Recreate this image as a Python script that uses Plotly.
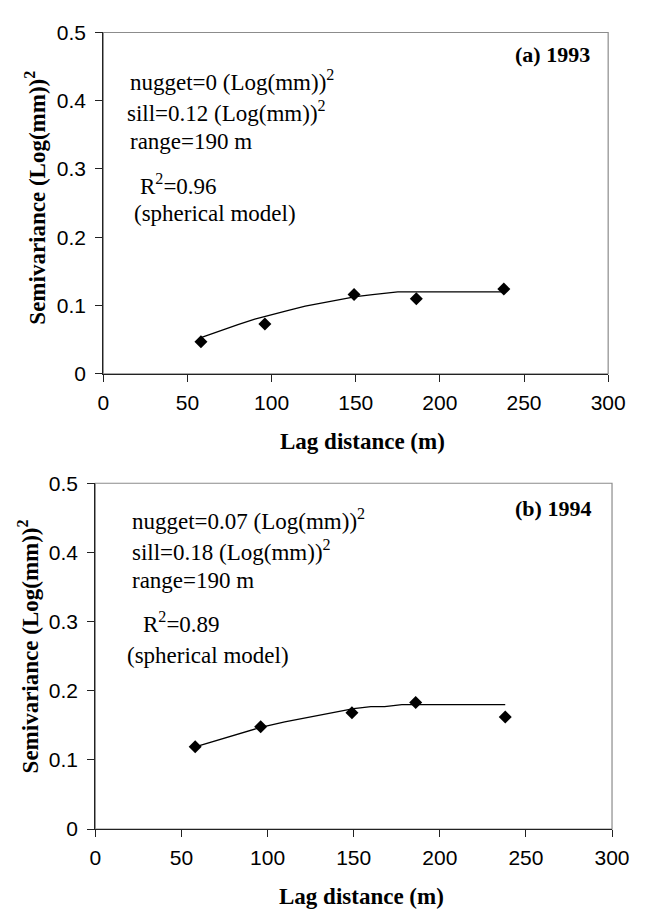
import plotly.graph_objects as go

W, H = 657, 921

# ---- data ----
lag_a = [58, 96, 149, 186, 238]
semi_a = [0.047, 0.073, 0.116, 0.110, 0.124]
model_x_a = [58, 70, 80, 90, 100, 110, 120, 130, 140, 150, 160, 175, 238]
model_y_a = [0.053, 0.064, 0.072, 0.080, 0.087, 0.093, 0.099, 0.104, 0.109, 0.113, 0.116, 0.120, 0.120]

lag_b = [58, 96, 149, 186, 238]
semi_b = [0.119, 0.148, 0.168, 0.183, 0.162]
model_x_b = [58, 70, 80, 88, 96, 110, 120, 130, 140, 150, 160, 168, 178, 238]
model_y_b = [0.119, 0.128, 0.135, 0.141, 0.147, 0.155, 0.160, 0.165, 0.170, 0.174, 0.177, 0.177, 0.180, 0.180]

x_ticks = [0, 50, 100, 150, 200, 250, 300]
y_ticks = [0, 0.1, 0.2, 0.3, 0.4, 0.5]

texts_a = ["nugget=0 (Log(mm))<sup>2</sup>", "sill=0.12 (Log(mm))<sup>2</sup>", "range=190 m",
           "R<sup>2</sup>=0.96", "(spherical model)"]
texts_b = ["nugget=0.07 (Log(mm))<sup>2</sup>", "sill=0.18 (Log(mm))<sup>2</sup>", "range=190 m",
           "R<sup>2</sup>=0.89", "(spherical model)"]
panel_labels = ["(a) 1993", "(b) 1994"]
x_title = "Lag distance (m)"
y_title = "Semivariance (Log(mm))<sup>2</sup>"

SERIF = "Times New Roman, Liberation Serif, serif"
SANS = "Arial, Liberation Sans, sans-serif"

def px_x(p):
    return p / W

def px_y(p):
    return 1 - p / H

fig = go.Figure()

# panel geometry in pixels: (left, right, top, bottom)
panels = [(101, 625, 21, 371), (92.7, 629, 483.3, 838)]

for i, (lag, semi, mx, my) in enumerate([(lag_a, semi_a, model_x_a, model_y_a),
                                          (lag_b, semi_b, model_x_b, model_y_b)]):
    xa = "x" if i == 0 else "x2"
    ya = "y" if i == 0 else "y2"
    fig.add_trace(go.Scatter(x=mx, y=my, mode="lines", xaxis=xa, yaxis=ya,
                             line=dict(color="black", width=1.3), showlegend=False))
    fig.add_trace(go.Scatter(x=lag, y=semi, mode="markers", xaxis=xa, yaxis=ya,
                             marker=dict(symbol="diamond", size=10, color="black"),
                             showlegend=False))

axis_common = dict(showgrid=False, zeroline=False, showline=True, linecolor="#222",
                   linewidth=1.2, ticks="outside", ticklen=7, tickwidth=1.2, tickcolor="#222",
                   tickfont=dict(family=SANS, size=21, color="black"))

for i, (l, r, t, b) in enumerate(panels):
    sfx = "" if i == 0 else "2"
    fig.update_layout(**{
        "xaxis" + sfx: dict(domain=[px_x(l), px_x(r)], range=[0, 300], tickvals=x_ticks,
                            anchor="y" + sfx, ticklabelstandoff=3, **axis_common),
        "yaxis" + sfx: dict(domain=[px_y(b), px_y(t)], range=[0, 0.5], tickvals=y_ticks,
                            ticktext=[("%g" % v) for v in y_ticks],
                            anchor="x" + sfx, ticklabelstandoff=5, **axis_common),
    })
    # gray frame (top/right)
    fig.add_shape(type="rect", xref="paper", yref="paper", x0=px_x(l), x1=px_x(r),
                  y0=px_y(b), y1=px_y(t), line=dict(color="#8c8c8c", width=1.2), layer="below")

anns = []
# panel text positions (left x, center y) in pixels
pos_a = [(127, 70), (123, 102), (127, 133), (137, 177), (131, 207)]
pos_b = [(129, 520), (129, 552), (129, 583), (140, 626), (123, 660)]
for texts, pos in [(texts_a, pos_a), (texts_b, pos_b)]:
    for t, (x, y) in zip(texts, pos):
        anns.append(dict(text=t, x=px_x(x), y=px_y(y), xref="paper", yref="paper",
                         xanchor="left", yanchor="middle", showarrow=False,
                         font=dict(family=SERIF, size=23, color="black")))
for t, (x, y) in zip(panel_labels, [(526, 44), (526, 509)]):
    anns.append(dict(text="<b>%s</b>" % t, x=px_x(x), y=px_y(y), xref="paper", yref="paper",
                     xanchor="left", yanchor="middle", showarrow=False,
                     font=dict(family=SERIF, size=22, color="black")))
for (x, y) in [(370, 440), (369, 907)]:
    anns.append(dict(text="<b>%s</b>" % x_title, x=px_x(x), y=px_y(y), xref="paper", yref="paper",
                     xanchor="center", yanchor="middle", showarrow=False,
                     font=dict(family=SERIF, size=23, color="black")))
for (x, y) in [(30.5, 190), (23.5, 651)]:
    anns.append(dict(text="<b>%s</b>" % y_title, x=px_x(x), y=px_y(y), xref="paper", yref="paper",
                     xanchor="center", yanchor="middle", showarrow=False, textangle=-90,
                     font=dict(family=SERIF, size=23, color="black")))

fig.update_layout(width=W, height=H, margin=dict(l=0, r=0, t=0, b=0),
                  paper_bgcolor="white", plot_bgcolor="white", annotations=anns,
                  showlegend=False)

fig.write_html("out.html")
